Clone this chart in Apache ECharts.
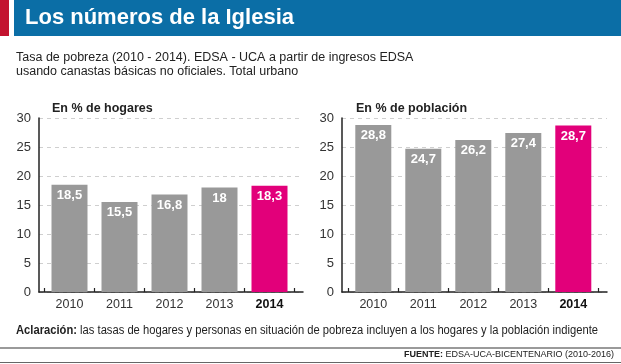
<!DOCTYPE html>
<html>
<head>
<meta charset="utf-8">
<script src="https://cdn.jsdelivr.net/npm/echarts@6/dist/echarts.min.js"></script>
<style>
html,body{margin:0;padding:0;background:#fff;}
#c{width:621px;height:364px;}
</style>
</head>
<body>
<div id="c"></div>
<script>
const years = ['2010', '2011', '2012', '2013', '2014'];
const hogares = [18.5, 15.5, 16.8, 18, 18.3];
const poblacion = [28.8, 24.7, 26.2, 27.4, 28.7];
const yMin = 0, yMax = 30, yStep = 5;
const highlightYear = '2014';

const titleText = 'Los números de la Iglesia';
const subtitleText = 'Tasa de pobreza (2010 - 2014). EDSA - UCA a partir de ingresos EDSA\nusando canastas básicas no oficiales. Total urbano';
const panelTitles = ['En % de hogares', 'En % de población'];
const noteBold = 'Aclaración:';
const noteText = 'las tasas de hogares y personas en situación de pobreza incluyen a los hogares y la población indigente';
const sourceBold = 'FUENTE:';
const sourceText = 'EDSA-UCA-BICENTENARIO (2010-2016)';

const GRAY = '#999999';
const MAGENTA = '#e2007a';
const TXT = '#222222';
const SANS = '"Liberation Sans",Arial,sans-serif';

const chart = echarts.init(document.getElementById('c'), null, {renderer: 'canvas'});

// measure helper for the condensed footnote line
const mctx = document.createElement('canvas').getContext('2d');
function textW(str, font) { mctx.font = font; return mctx.measureText(str).width; }
const noteFontB = 'bold 12.5px "Liberation Sans", Arial, sans-serif';
const noteFontN = '12.5px "Liberation Sans", Arial, sans-serif';
const wB = textW(noteBold, noteFontB);
const wS = textW(' ', noteFontN);
const wN = textW(noteText, noteFontN);
const noteScale = 582 / (wB + wS + wN);

// panel geometry
const gTop = 118, gBottom = 364 - 292;
const panels = [
  {full: {left: 39, right: 621 - 303}, bars: {left: 44.5, right: 621 - 294.5}, data: hogares, tx: 52},
  {full: {left: 342, right: 621 - 607}, bars: {left: 348.3, right: 621 - 598.3}, data: poblacion, tx: 356}
];
const extTop = 103;
const extMax = yMax * (292 - extTop) / (292 - gTop);

const grids = [], xAxes = [], yAxes = [], series = [], titles = [];
panels.forEach((p, k) => {
  const gA = grids.length;
  grids.push({left: p.full.left, right: p.full.right, top: gTop, bottom: gBottom, containLabel: false});
  const gB = grids.length;
  grids.push({left: p.bars.left, right: p.bars.right, top: gTop, bottom: gBottom, containLabel: false});

  xAxes.push({gridIndex: gA, type: 'category', data: years,
    axisLine: {show: true, lineStyle: {color: '#222', width: 1.5}},
    axisTick: {show: false}, axisLabel: {show: false}, splitLine: {show: false}});
  const xB = xAxes.length;
  xAxes.push({gridIndex: gB, type: 'category', data: years,
    axisLine: {show: false},
    axisTick: {show: true, inside: true, length: 4, lineStyle: {color: '#222', width: 1.2}},
    axisLabel: {show: true, interval: 0, margin: 6, color: '#333', fontFamily: SANS, fontSize: 12.5,
      formatter: v => v === highlightYear ? '{b|' + v + '}' : v,
      rich: {b: {fontFamily: SANS, fontSize: 12.5, fontWeight: 'bold', color: '#111'}}},
    splitLine: {show: false}});

  yAxes.push({gridIndex: gA, type: 'value', min: yMin, max: yMax, interval: yStep,
    axisLine: {show: false}, axisTick: {show: false},
    axisLabel: {show: true, margin: 8, color: '#333', fontFamily: SANS, fontSize: 13},
    splitLine: {show: true, lineStyle: {color: '#cfcfcf', type: [4, 4], width: 1}}});
  yAxes.push({gridIndex: gA, type: 'value', min: yMin, max: extMax, position: 'left',
    axisLine: {show: true, onZero: false, lineStyle: {color: '#222', width: 1.5}},
    axisTick: {show: false}, axisLabel: {show: false}, splitLine: {show: false}});
  const yB = yAxes.length;
  yAxes.push({gridIndex: gB, type: 'value', min: yMin, max: yMax, interval: yStep, show: false});

  series.push({
    type: 'bar', xAxisIndex: xB, yAxisIndex: yB, data: p.data, barWidth: 36,
    itemStyle: {color: params => years[params.dataIndex] === highlightYear ? MAGENTA : GRAY},
    label: {show: true, position: 'insideTop', distance: 4, color: '#fff',
      fontFamily: SANS, fontWeight: 'bold', fontSize: 13,
      formatter: params => String(params.value).replace('.', ',')},
    z: 3
  });

  titles.push({text: panelTitles[k], left: p.tx, top: 102, padding: 0,
    textStyle: {fontFamily: SANS, fontWeight: 'bold', fontSize: 12.5, color: TXT}});
});

titles.push({text: titleText, left: 25, top: 7, padding: 0,
  textStyle: {fontFamily: SANS, fontWeight: 'bold', fontSize: 22, color: '#fff'}});
titles.push({text: subtitleText, left: 16, top: 51, padding: 0,
  textStyle: {fontFamily: SANS, fontWeight: 'normal', fontSize: 12.5, color: TXT, lineHeight: 14}});
titles.push({text: '{b|' + sourceBold + '} ' + sourceText, right: 7, top: 350, padding: 0,
  textStyle: {fontFamily: SANS, fontWeight: 'normal', fontSize: 9, color: TXT,
    rich: {b: {fontFamily: SANS, fontSize: 9, fontWeight: 'bold', color: TXT}}}});

chart.setOption({
  animation: false,
  backgroundColor: '#fff',
  title: titles,
  grid: grids,
  xAxis: xAxes,
  yAxis: yAxes,
  series: series,
  graphic: [
    {type: 'rect', shape: {x: 0, y: 0, width: 9, height: 36}, style: {fill: '#c3132f'}, z: -1},
    {type: 'rect', shape: {x: 14, y: 0, width: 607, height: 36}, style: {fill: '#0b6ea6'}, z: -1},
    {type: 'rect', shape: {x: 0, y: 347, width: 621, height: 2}, style: {fill: '#9a9a9a'}},
    {type: 'rect', shape: {x: 0, y: 362, width: 621, height: 1}, style: {fill: '#666'}},
    {type: 'group', x: 16, y: 331, scaleX: noteScale, children: [
      {type: 'text', x: 0, y: 0, style: {text: noteBold, font: noteFontB, fill: TXT, verticalAlign: 'middle', textVerticalAlign: 'middle'}},
      {type: 'text', x: wB + wS, y: 0, style: {text: noteText, font: noteFontN, fill: TXT, verticalAlign: 'middle', textVerticalAlign: 'middle'}}
    ]}
  ]
});
</script>
</body>
</html>
